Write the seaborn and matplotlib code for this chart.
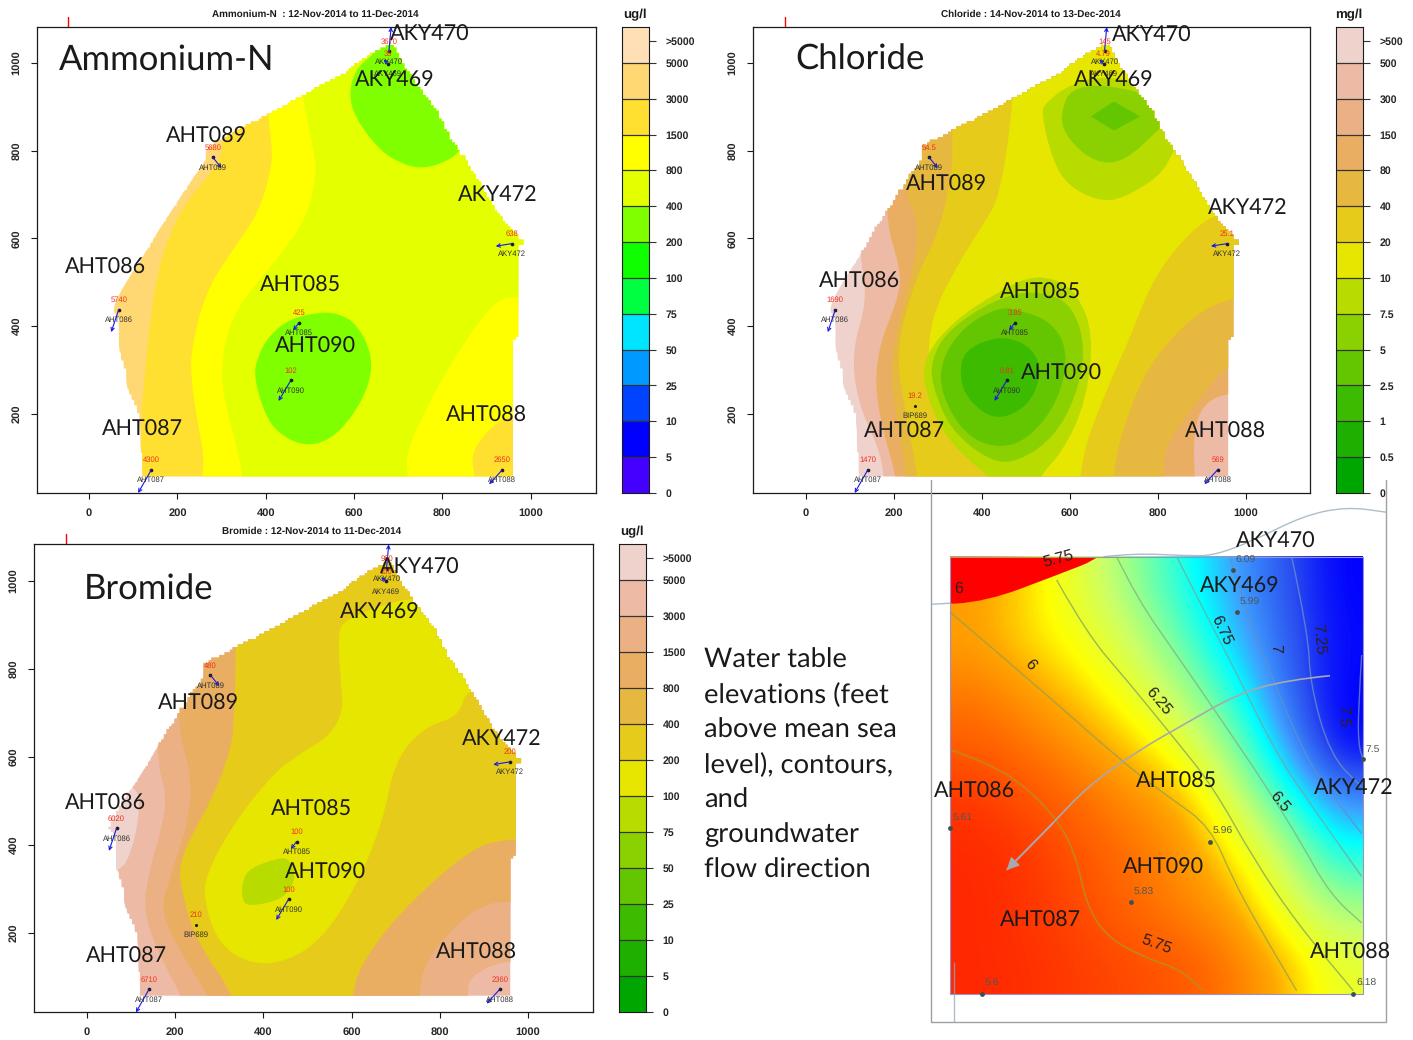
import numpy as np
import seaborn as sns
import matplotlib.pyplot as plt
from matplotlib.colors import ListedColormap, LinearSegmentedColormap
from matplotlib.patches import Polygon, PathPatch
from matplotlib.path import Path

sns.set_theme(style='ticks')
plt.rcParams['font.family'] = ['Liberation Sans', 'DejaVu Sans']
plt.rcParams['text.hinting'] = 'no_hinting'

W, H = 1413, 1040

# plume outline, site coordinates (feet)
boundary = [(121,57),(960,57),(960,367),(973,382),(973,588),(982,594),(919,668),(879,740),(843,797),
            (828,816),(783,900),(753,938),(712,998),(687,1044),(667,1033),(622,1010),(586,980),(545,957),
            (485,926),(404,881),(343,850),(263,808),(265,778),(240,745),(202,687),(152,610),(126,565),
            (76,489),(51,436),(69,413),(66,345),(81,299),(86,253),(116,192),(116,116)]

# wells
wells = ['AHT086','AHT089','AHT087','AHT088','AHT090','AHT085','AKY472','AKY470','AKY469']
well_x = [67,280,141,936,457,475,958,679,677]
well_y = [437,785,72,72,276,407,588,1027,998]
flow_x = [50,300,111,906,429,462,921,684,667]
flow_y = [386,760,19,39,229,390,582,1082,1008]
bip_x, bip_y = 248, 218

amm_values = ['5740','5680','4300','2650','102','425','638','3670','35']
cl_values = ['1690','54.5','1470','569','0.81','3.85','25.1','145','4.79']
br_values = ['6020','480','6710','2360','100','100','200','980','100']

# colour key
amm_ticks = ['0','5','10','25','50','75','100','200','400','800','1500','3000','5000']
cl_ticks = ['0','0.5','1','2.5','5','7.5','10','20','40','80','150','300','500']
br_ticks = ['0','5','10','25','50','75','100','200','400','800','1500','3000','5000']
amm_colors = ['#FFDFB5','#FFD873','#FFE030','#FFFF00','#E3FF00','#80FF00','#10FF00',
              '#00FF40','#00E5FF','#0099FF','#0044FF','#0000FF','#4400FF']
terrain = ['#EFD2CC','#EDBBA5','#EBB084','#E9AE62','#E7B840','#E6CB1A','#E6E600',
           '#B8DC00','#8BD000','#63C600','#3DBB00','#1EB000','#00A600']

# ammonium contours
amm_3000 = [(308,816),(283,755),(222,687),(182,611),(152,512),(131,352),(126,284),(116,177),(121,56),
            (1010,56),(1010,1100),(308,1100)]
amm_1500 = [(404,881),(414,816),(414,763),(384,656),(313,557),(263,474),(232,352),(230,284),(247,170),
            (261,101),(256,56),(1010,56),(1010,1100),(404,1100)]
amm_patch = [(960,200),(909,170),(864,109),(874,56),(1010,56),(1010,200)]
amm_800 = [(485,926),(485,915),(510,793),(515,748),(495,649),(424,550),(333,443),(300,337),(303,238),
           (333,132),(348,56),(722,56),(717,109),(758,200),(818,314),(919,462),(975,466),(1010,466),
           (1010,1067),(485,1067)]
amm_400a = [(657,1029),(606,991),(588,934),(601,877),(657,801),(707,770),(753,759),(798,770),(843,797),
            (909,915),(707,1082),(657,1100)]
amm_400b = [(525,432),(455,417),(404,375),(379,322),(374,284),(394,208),(424,158),(485,125),(545,139),
            (596,192),(636,268),(641,337),(606,405),(566,428)]

# chloride contours
cl_500 = [(123,650),(123,559),(140,459),(105,345),(116,230),(168,116),(178,55),(1100,55),(1100,1100),(123,1100)]
cl_300 = [(178,650),(214,535),(214,474),(168,360),(157,269),(173,170),(206,55),(884,55),(881,154),(902,223),
          (964,250),(1100,250),(1100,1100),(178,1100)]
cl_80 = [(219,710),(255,650),(250,550),(214,421),(193,307),(199,230),(230,55),(814,55),(814,124),(897,238),
         (964,322),(1100,322),(1100,1100),(219,1100)]
cl_40 = [(333,821),(333,749),(302,611),(250,512),(204,345),(224,215),(255,55),(698,55),(716,154),(778,314),
         (886,429),(971,467),(1100,467),(1100,1100),(333,1100)]
cl_20 = [(473,920),(442,695),(400,627),(338,528),(286,421),(276,314),(307,192),(369,116),(421,55),(623,55),
         (638,139),(690,269),(741,383),(778,482),(835,573),(922,657),(1000,657),(1000,1100),(473,1100)]
cl_10a = [(597,950),(545,909),(535,886),(560,779),(597,718),(669,684),(721,691),(804,741),(835,794),(898,916),
          (690,975)]
cl_75a = [(576,878),(596,825),(659,771),(726,775),(804,851),(840,880),(762,939),(607,954)]
cl_5a = [(648,878),(700,912),(760,878),(700,846)]
cl_10b = [(504,512),(431,474),(338,413),(273,337),(266,269),(307,162),(369,93),(421,55),(529,55),(586,116),
          (638,230),(654,383),(617,474),(566,509)]
cl_75b = [(483,478),(400,444),(317,383),(286,322),(286,269),(328,162),(421,90),(483,90),(566,147),(617,246),
          (636,352),(607,444),(555,474)]
cl_5b = [(442,444),(359,400),(307,322),(307,246),(359,154),(431,120),(504,139),(576,230),(597,345),(555,413),(483,436)]
cl_25b = [(431,375),(359,345),(349,284),(369,230),(431,183),(504,215),(535,284),(524,337),(483,368)]

# bromide contours
br_5000 = [(0,539),(115,539),(120,471),(100,380),(75,338),(0,338)]
br_3000 = [(156,592),(181,516),(171,441),(141,342),(126,243),(181,114),(215,57),(864,57),(864,92),(905,122),
           (961,137),(1100,137),(1100,1100),(156,1100)]
br_1500 = [(201,683),(237,562),(232,456),(186,319),(166,243),(227,130),(277,57),(753,57),(763,130),(844,228),
           (915,270),(961,270),(1100,270),(1100,1100),(201,1100)]
br_800 = [(338,839),(333,683),(328,623),(287,509),(206,365),(217,281),(247,183),(333,57),(601,57),(621,130),
          (713,251),(864,387),(945,414),(1100,414),(1100,1100),(338,1100)]
br_200 = [(586,911),(568,881),(576,759),(581,706),(551,646),(470,600),(409,547),(328,441),(267,327),(267,266),
          (298,175),(368,129),(449,133),(530,182),(611,304),(672,456),(697,589),(763,668),(844,691),(860,759),
          (1000,759),(1000,964),(748,964),(662,942)]
br_100 = [(439,372),(368,346),(353,319),(350,281),(363,258),(449,277),(475,327),(460,365)]

# water table: elevations read along the map, west to east, north to south
water_grid = [[5.95,6.10,6.30,6.53,6.78,7.05,7.28,7.50],
              [5.98,6.11,6.22,6.39,6.65,6.98,7.24,7.48],
              [5.85,5.95,6.08,6.25,6.46,6.77,7.20,7.50],
              [5.75,5.83,5.93,6.06,6.27,6.55,7.03,7.50],
              [5.60,5.70,5.80,5.90,6.00,6.35,6.70,7.10],
              [5.55,5.60,5.72,5.82,5.92,6.13,6.42,6.78],
              [5.55,5.60,5.67,5.79,5.88,5.96,6.27,6.48],
              [5.55,5.58,5.63,5.68,5.73,5.85,6.02,6.27]]
water_levels = [5.55,5.80,6.00,6.17,6.40,6.55,6.85,7.05,7.30,7.50]
water_colors = ['#FF2800','#FF6A00','#FFA800','#FFFF00','#CCFF66','#90FF90','#00FFFF','#3FA0FF','#2A50F0','#0000FF']

line_575 = [(90,755),(200,790),(320,860),(420,960),(470,1060),(500,1190),(560,1280),(680,1340),(780,1370),(850,1430)]
line_600 = [(90,370),(330,560),(620,800),(750,890),(870,970),(940,1120),(1010,1240),(1130,1430)]
line_625 = [(410,280),(500,430),(620,560),(760,720),(880,860),(1000,1060),(1130,1240),(1300,1430)]
line_650 = [(590,215),(650,330),(770,490),(910,680),(1040,860),(1140,1010),(1230,1160),(1325,1240)]
line_675 = [(770,215),(860,380),(960,560),(1060,750),(1150,880),(1325,1110)]
line_700 = [(930,215),(990,400),(1060,560),(1150,760),(1210,850),(1325,990)]
line_725 = [(1115,215),(1165,430),(1170,570),(1230,770),(1325,860)]
line_750 = [(1325,490),(1315,640),(1315,740),(1330,785)]
red_patch = [(20,100),(640,100),(560,212),(400,270),(200,340),(20,352)]
outer_a = [(35,348),(90,345)]
outer_b = [(550,215),(640,205),(800,212),(880,212),(1000,170),(1150,100),(1280,75),(1398,90)]
outer_c = [(103,1350),(103,1518)]
flow_path = [(1230,548),(1100,560),(950,600),(800,680),(650,760),(500,860),(400,960),(260,1092)]

water_pts_x = [938,952,1328,90,870,632,187,1300]
water_pts_y = [252,370,782,975,1013,1182,1438,1438]
water_pts_lab = ['6.09','5.99','7.5','5.61','5.96','5.83','5.6','6.18']

# big annotation labels, figure pixels
labels_amm = {'AKY470':(430,32),'AKY469':(395,78),'AHT089':(206,134),'AKY472':(498,192),'AHT086':(105,265),
              'AHT085':(300,283),'AHT090':(315,344),'AHT087':(142,427),'AHT088':(486,413)}
labels_cl = {'AKY470':(1152,33),'AKY469':(1114,78),'AHT089':(946,182),'AKY472':(1248,205),'AHT086':(859,279),
             'AHT085':(1040,290),'AHT090':(1061,371),'AHT087':(904,429),'AHT088':(1225,429)}
labels_br = {'AKY470':(420,565),'AKY469':(380,610),'AHT089':(198,701),'AKY472':(502,736),'AHT086':(105,801),
             'AHT085':(311,807),'AHT090':(325,870),'AHT087':(126,954),'AHT088':(476,950)}
labels_wt = {'AKY470':(1276,539),'AKY469':(1240,584),'AHT085':(1176,779),'AKY472':(1354,785),'AHT086':(974,789),
             'AHT090':(1163,865),'AHT087':(1040,918),'AHT088':(1350,950)}
water_text = ['Water table','elevations (feet','above mean sea','level), contours,','and','groundwater','flow direction']


def px_axes(fig, x0, y0, x1, y1, **kw):
    return fig.add_axes([x0 / W, 1 - y1 / H, (x1 - x0) / W, (y1 - y0) / H], **kw)


def rounded(points, closed=True):
    # rounds the corners of a traced contour with quadratic curves
    pts = np.array(points, dtype=float)
    if closed:
        mids = (pts + np.roll(pts, -1, axis=0)) / 2
        verts = [mids[-1]]
        codes = [Path.MOVETO]
        for p, m in zip(pts, mids):
            verts += [p, m]
            codes += [Path.CURVE3, Path.CURVE3]
    else:
        mids = (pts[1:] + pts[:-1]) / 2
        verts = [pts[0]]
        codes = [Path.MOVETO]
        for p, m in zip(pts[1:-1], mids[1:]):
            verts += [p, m]
            codes += [Path.CURVE3, Path.CURVE3]
        verts.append(pts[-1])
        codes.append(Path.LINETO)
    return Path(verts, codes)


def past_bottom(points):
    # push the flat bottom run below the plume so its rounding is clipped away
    out = []
    for i, p in enumerate(points):
        q = points[(i + 1) % len(points)]
        out.append(p)
        if p[1] < 60 and q[1] < 60:
            out += [(p[0], 15), (q[0], 15)]
    return out


def stair_outline(points, step=6):
    # the plume was gridded, so its outline runs in small steps
    pts = np.array(points + points[:1], dtype=float)
    out = []
    for a, b in zip(pts[:-1], pts[1:]):
        n = max(int(np.hypot(*(b - a)) / step), 1)
        for t in range(n):
            p = a + (b - a) * t / n
            snapped = (round(p[0] / step) * step, 57 + round((p[1] - 57) / step) * step)
            if out:
                out.append((snapped[0], out[-1][1]))
            out.append(snapped)
    return out


def plume_panel(fig, box, xlim, ylim, bands, values, title, title_x, title_y, bip=None):
    ax = px_axes(fig, *box)
    clip = Polygon(stair_outline(boundary), closed=True, transform=ax.transData)
    for color, poly in bands:
        if len(poly) <= 4:
            path = Path(poly + poly[:1], closed=True)
        else:
            path = rounded(past_bottom(poly))
        patch = PathPatch(path, facecolor=color, lw=0)
        ax.add_patch(patch)
        patch.set_clip_path(clip)
    ax.set_xlim(xlim)
    ax.set_ylim(ylim)
    sns.scatterplot(x=well_x, y=well_y, ax=ax, color='k', s=7, linewidth=0, zorder=4)
    for i, name in enumerate(wells):
        ax.annotate('', xy=(flow_x[i], flow_y[i]), xytext=(well_x[i], well_y[i]), zorder=4,
                    arrowprops=dict(arrowstyle='->', color='#1818E8', lw=0.8, shrinkA=0, shrinkB=0, mutation_scale=6))
        ax.annotate(values[i], (well_x[i], well_y[i]), xytext=(0, 7), textcoords='offset points', ha='center',
                    va='center', fontsize=5.5, color='#F03020', zorder=5)
        ax.annotate(name, (well_x[i], well_y[i]), xytext=(0, -7.5), textcoords='offset points', ha='center',
                    va='center', fontsize=5.5, color='#303030', zorder=5)
    if bip is not None:
        sns.scatterplot(x=[bip_x], y=[bip_y], ax=ax, color='k', s=5, linewidth=0, zorder=4)
        ax.annotate(bip, (bip_x, bip_y), xytext=(0, 7), textcoords='offset points', ha='center', va='center',
                    fontsize=5.5, color='#F03020')
        ax.annotate('BIP689', (bip_x, bip_y), xytext=(0, -7), textcoords='offset points', ha='center', va='center',
                    fontsize=5.5, color='#303030')
    ax.set_xticks([0, 200, 400, 600, 800, 1000])
    ax.set_yticks([200, 400, 600, 800, 1000])
    ax.tick_params(length=4, width=0.8, labelsize=8, pad=7, color='k')
    for t in ax.get_xticklabels():
        t.set_fontweight('bold')
    for t in ax.get_yticklabels():
        t.set_fontweight('bold')
        t.set_rotation(90)
        t.set_va('center')
    for s in ax.spines.values():
        s.set_linewidth(0.9)
        s.set_color('k')
    # red mark above the frame
    ax.plot([-48, -48], [ylim[1], ylim[1] + 22], color='red', lw=1, clip_on=False)
    fig.text(title_x / W, 1 - title_y / H, title, ha='center', va='center', fontsize=7.1, fontweight='bold', color='k')
    return ax


def color_key(fig, box, colors, ticks, unit, unit_x, unit_y):
    cax = px_axes(fig, *box)
    grid = np.arange(len(colors)).reshape(-1, 1)
    sns.heatmap(grid, cmap=ListedColormap(colors), cbar=False, ax=cax, xticklabels=False, yticklabels=False)
    n = len(colors)
    cax.hlines(range(1, n), 0, 1, color='#333333', lw=0.9)
    cax.yaxis.tick_right()
    cax.set_yticks([0.4] + list(range(1, n + 1)))
    cax.set_yticklabels(['>' + ticks[-1]] + ticks[::-1][:n - 1] + [ticks[0]], rotation=0, fontsize=7.6, fontweight='bold')
    cax.tick_params(axis='y', length=5, width=0.8, pad=7, color='#333333')
    cax.set_xticks([])
    for s in cax.spines.values():
        s.set_visible(True)
        s.set_linewidth(0.8)
        s.set_color('k')
    fig.text(unit_x / W, 1 - unit_y / H, unit, ha='center', va='center', fontsize=9.5, fontweight='bold', color='k')


fig = plt.figure(figsize=(W / 100, H / 100), dpi=100)

amm_bands = [(amm_colors[1], boundary), (amm_colors[2], amm_3000), (amm_colors[3], amm_1500),
             (amm_colors[2], amm_patch), (amm_colors[4], amm_800), (amm_colors[5], amm_400a), (amm_colors[5], amm_400b)]
plume_panel(fig, (37, 27, 596, 493), (-118, 1148), (19, 1082), amm_bands, amm_values,
            'Ammonium-N  : 12-Nov-2014 to 11-Dec-2014', 315, 14)
color_key(fig, (622, 27, 649, 493), amm_colors, amm_ticks, 'ug/l', 635, 15)

cl_bands = [(terrain[0], boundary), (terrain[1], cl_500), (terrain[3], cl_300), (terrain[4], cl_80), (terrain[5], cl_40),
            (terrain[6], cl_20), (terrain[7], cl_10a), (terrain[8], cl_75a), (terrain[9], cl_5a), (terrain[7], cl_10b),
            (terrain[8], cl_75b), (terrain[9], cl_5b), (terrain[10], cl_25b)]
plume_panel(fig, (753, 27, 1310, 493), (-120, 1146), (19, 1082), cl_bands, cl_values,
            'Chloride : 14-Nov-2014 to 13-Dec-2014', 1031, 14, bip='19.2')
color_key(fig, (1336, 27, 1363, 493), terrain, cl_ticks, 'mg/l', 1349, 15)

br_bands = [(terrain[1], boundary), (terrain[0], br_5000), (terrain[2], br_3000), (terrain[3], br_1500), (terrain[5], br_800),
            (terrain[6], br_200), (terrain[7], br_100)]
plume_panel(fig, (34, 544, 593, 1012), (-120, 1147), (20, 1083), br_bands, br_values,
            'Bromide : 12-Nov-2014 to 11-Dec-2014', 312, 531, bip='210')
color_key(fig, (619, 544, 646, 1012), terrain, br_ticks, 'ug/l', 632, 532)

# water table map, axes in map units
wt = px_axes(fig, 920, 480, 1413, 1040, facecolor='none')
wt.axis('off')
norm = [(v - water_levels[0]) / (water_levels[-1] - water_levels[0]) for v in water_levels]
water_cmap = LinearSegmentedColormap.from_list('water', list(zip(norm, water_colors)))
wt.imshow(water_grid, extent=(90, 1328, 1440, 215), cmap=water_cmap, vmin=5.55, vmax=7.5, interpolation='bicubic',
          aspect='auto', zorder=1)
wt.set_xlim(0, 1479)
wt.set_ylim(1568, 0)
red = PathPatch(rounded(red_patch), facecolor='#FF0000', lw=0, zorder=2)
wt.add_patch(red)
red.set_clip_path(Polygon([(90,215),(1328,215),(1328,1440),(90,1440)], closed=True, transform=wt.transData))
for line, c, lw in [(line_575, '#B89020', 1.3), (line_600, '#90A050', 1), (line_625, '#80A060', 1), (line_650, '#80B080', 1),
                    (line_675, '#70A8A0', 1), (line_700, '#6090C8', 1), (line_725, '#7090C8', 1), (line_750, '#7090C8', 1),
                    (outer_a, '#90A8B8', 1), (outer_b, '#90A8B8', 1), (outer_c, '#90A8B8', 1)]:
    wt.add_patch(PathPatch(rounded(line, closed=False), facecolor='none', edgecolor=c, lw=lw, alpha=0.75, zorder=3))
wt.add_patch(PathPatch(rounded(flow_path, closed=False), facecolor='none', edgecolor='#A8A8B0', lw=1.2, zorder=4))
wt.annotate('', xy=flow_path[-1], xytext=flow_path[-2], zorder=4,
            arrowprops=dict(arrowstyle='-|>', color='#A8A8B0', lw=1.2, mutation_scale=18, shrinkA=0, shrinkB=0))
wt.plot([33, 33, 1398, 1398], [0, 1518, 1518, 0], color='#A0A0A0', lw=1, zorder=3)
wt.plot([90, 1328, 1328, 90, 90], [215, 215, 1440, 1440, 215], color='#A090C8', lw=0.8, zorder=3)
sns.scatterplot(x=water_pts_x, y=water_pts_y, ax=wt, color='#405050', s=12, linewidth=0, zorder=5)
for px, py, lab in zip(water_pts_x, water_pts_y, water_pts_lab):
    wt.text(px + 8, py - 28, lab, fontsize=7.5, color='#505858', va='center', zorder=5)
for txt, x, y, r in [('5.75', 415, 220, 15), ('6', 115, 305, 0), ('6', 332, 518, -50), ('6.25', 715, 620, -50),
                     ('6.75', 905, 420, -65), ('7', 1065, 472, -90), ('7.25', 1195, 445, -85), ('7.5', 1270, 660, -90),
                     ('6.5', 1078, 900, -50), ('5.75', 710, 1300, -20)]:
    wt.text(x, y, txt, fontsize=11.5, color='#302020', rotation=r, ha='center', va='center', zorder=5)

# overlay with the hand-placed labels
ov = px_axes(fig, 0, 0, W, H, facecolor='none')
ov.set_xlim(0, W)
ov.set_ylim(H, 0)
ov.axis('off')
for labels in (labels_amm, labels_cl, labels_br, labels_wt):
    for name, (x, y) in labels.items():
        ov.text(x, y + 2.5, name, fontsize=15.5, family='Lato', color='k', ha='center', va='center')
ov.text(59, 60, 'Ammonium-N', fontsize=25, family='Lato', color='k', va='center')
ov.text(795, 60, 'Chloride', fontsize=25, family='Lato', color='k', va='center')
ov.text(84, 590, 'Bromide', fontsize=25, family='Lato', color='k', va='center')
for i, line in enumerate(water_text):
    ov.text(704, 660 + 35 * i, line, fontsize=19.7, family='Lato', color='k', va='center')

fig.savefig('out.png', dpi=100)
